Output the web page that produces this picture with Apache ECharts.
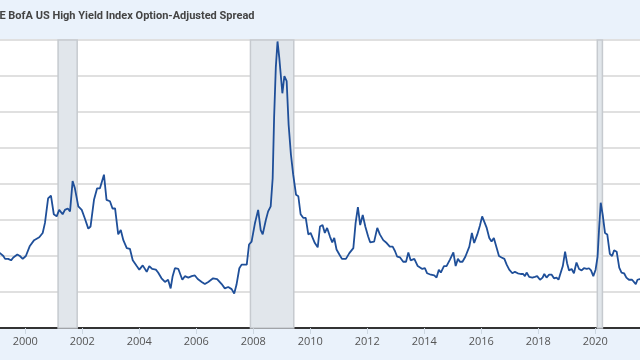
<!DOCTYPE html>
<html>
<head>
<meta charset="utf-8">
<script src="https://cdn.jsdelivr.net/npm/echarts@6/dist/echarts.min.js"></script>
<style>
  html, body { margin: 0; padding: 0; background: #fff; }
  #chart { width: 640px; height: 360px; }
</style>
</head>
<body>
<div id="chart"></div>
<script>
const titleText = 'ICE BofA US High Yield Index Option-Adjusted Spread';

const years = [
  1999.0, 1999.11, 1999.23, 1999.29, 1999.40, 1999.50, 1999.58, 1999.72, 1999.81, 1999.91,
  2000.02, 2000.16, 2000.31, 2000.49, 2000.61, 2000.69, 2000.80, 2000.90, 2001.00, 2001.10,
  2001.19, 2001.31, 2001.39, 2001.49, 2001.57, 2001.66, 2001.74, 2001.86, 2001.98, 2002.09,
  2002.21, 2002.29, 2002.41, 2002.52, 2002.62, 2002.76, 2002.85, 2002.97, 2003.06, 2003.15,
  2003.26, 2003.35, 2003.44, 2003.56, 2003.67, 2003.77, 2003.91, 2004.00, 2004.12, 2004.17,
  2004.26, 2004.35, 2004.45, 2004.58, 2004.66, 2004.78, 2004.90, 2005.01, 2005.10, 2005.17,
  2005.25, 2005.37, 2005.51, 2005.60, 2005.72, 2005.84, 2005.95, 2006.05, 2006.19, 2006.30,
  2006.42, 2006.59, 2006.73, 2006.89, 2007.00, 2007.12, 2007.24, 2007.33, 2007.41, 2007.51,
  2007.59, 2007.67, 2007.77, 2007.85, 2007.94, 2008.06, 2008.17, 2008.26, 2008.33, 2008.44,
  2008.52, 2008.61, 2008.68, 2008.73, 2008.79, 2008.85, 2008.91, 2009.02, 2009.09, 2009.17,
  2009.24, 2009.32, 2009.40, 2009.50, 2009.58, 2009.66, 2009.75, 2009.84, 2009.93, 2010.01,
  2010.08, 2010.16, 2010.26, 2010.34, 2010.43, 2010.51, 2010.59, 2010.69, 2010.77, 2010.84,
  2010.92, 2011.02, 2011.11, 2011.25, 2011.37, 2011.51, 2011.59, 2011.67, 2011.75, 2011.84,
  2011.93, 2012.03, 2012.10, 2012.24, 2012.35, 2012.44, 2012.56, 2012.68, 2012.79, 2012.89,
  2012.97, 2013.05, 2013.15, 2013.26, 2013.36, 2013.44, 2013.52, 2013.65, 2013.77, 2013.85,
  2013.93, 2014.02, 2014.10, 2014.23, 2014.35, 2014.43, 2014.51, 2014.58, 2014.69, 2014.78,
  2014.90, 2015.02, 2015.10, 2015.18, 2015.25, 2015.34, 2015.44, 2015.58, 2015.67, 2015.75,
  2015.86, 2015.95, 2016.03, 2016.10, 2016.19, 2016.28, 2016.36, 2016.44, 2016.54, 2016.62,
  2016.71, 2016.81, 2016.89, 2016.98, 2017.09, 2017.18, 2017.28, 2017.38, 2017.47, 2017.53,
  2017.59, 2017.68, 2017.79, 2017.88, 2017.96, 2018.06, 2018.15, 2018.21, 2018.29, 2018.38,
  2018.47, 2018.55, 2018.64, 2018.71, 2018.78, 2018.86, 2018.94, 2019.01, 2019.08, 2019.17,
  2019.25, 2019.34, 2019.43, 2019.52, 2019.60, 2019.70, 2019.78, 2019.85, 2019.93, 2020.01,
  2020.08, 2020.13, 2020.19, 2020.26, 2020.34, 2020.42, 2020.51, 2020.59, 2020.66, 2020.75,
  2020.84, 2020.92, 2021.01, 2021.09, 2021.18, 2021.29, 2021.35, 2021.42, 2021.48, 2021.56,
  2021.65
];

const spread = [
  5.3, 5.2, 5.0, 4.8, 4.8, 4.7, 4.9, 5.1, 5.0, 4.8,
  5.0, 5.7, 6.1, 6.3, 6.6, 7.3, 9.0, 9.2, 7.9, 7.75,
  8.2, 7.9, 8.2, 8.3, 8.1, 10.2, 9.7, 8.45, 8.2, 7.6,
  6.9, 7.05, 8.9, 9.7, 9.7, 10.65, 8.9, 8.8, 8.3, 8.3,
  6.5, 6.8, 6.1, 5.55, 5.5, 4.7, 4.3, 4.05, 4.35, 4.4,
  3.9, 4.3, 4.1, 4.05, 3.85, 3.45, 3.2, 3.35, 2.75, 3.6,
  4.15, 4.1, 3.35, 3.6, 3.5, 3.6, 3.65, 3.4, 3.2, 3.05,
  3.2, 3.45, 3.4, 3.05, 2.75, 2.85, 2.7, 2.4, 3.0, 4.15,
  4.4, 4.4, 4.4, 5.8, 6.0, 7.3, 8.2, 6.8, 6.5, 7.5,
  8.1, 8.45, 10.4, 14.6, 18.1, 19.9, 18.8, 16.3, 17.5, 17.15,
  14.1, 12.05, 10.65, 9.25, 9.15, 7.9, 7.65, 7.65, 6.5, 6.6,
  6.7, 5.9, 5.6, 7.05, 7.15, 6.6, 6.95, 6.35, 5.95, 6.25,
  5.45, 5.1, 4.8, 4.8, 5.2, 5.55, 7.3, 8.4, 7.15, 7.85,
  7.05, 6.35, 5.95, 6.0, 6.95, 6.5, 6.1, 5.9, 5.65, 5.65,
  5.35, 4.95, 4.9, 4.6, 4.6, 5.25, 4.7, 4.8, 4.3, 4.2,
  4.1, 4.15, 3.8, 3.7, 3.65, 3.5, 4.05, 3.85, 4.3, 4.3,
  4.75, 5.25, 4.3, 4.8, 4.6, 4.6, 4.95, 5.65, 6.6, 5.9,
  6.5, 7.1, 7.75, 7.75, 6.95, 6.25, 6.0, 6.25, 5.55, 5.0,
  4.9, 4.8, 4.4, 4.05, 3.8, 3.9, 3.8, 3.75, 3.75, 3.6,
  3.85, 3.55, 3.5, 3.55, 3.6, 3.35, 3.5, 3.75, 3.5, 3.7,
  3.7, 3.45, 3.5, 3.35, 3.8, 4.3, 5.3, 4.5, 4.0, 4.1,
  3.8, 4.55, 4.1, 4.0, 4.15, 4.1, 4.15, 4.0, 3.6, 4.05,
  4.95, 6.8, 8.7, 7.85, 6.6, 6.5, 5.15, 5.0, 5.4, 5.3,
  4.2, 3.85, 3.8, 3.5, 3.35, 3.35, 3.35, 3.05, 3.35, 3.4,
  3.35
];

const recessionStart = [2001.15, 2007.90, 2020.07];
const recessionEnd   = [2001.82, 2009.42, 2020.25];

const xMin = 1998, xMax = 2022, xStep = 2;
const yMin = 0, yMax = 20, yStep = 2.5;

const lineData = years.map((y, i) => [y, spread[i]]);
const bands = recessionStart.map((s, i) => [{ xAxis: s }, { xAxis: recessionEnd[i] }]);

const chart = echarts.init(document.getElementById('chart'), null, { renderer: 'canvas' });
chart.setOption({
  backgroundColor: '#ffffff',
  animation: false,
  grid: { left: -31.7, width: 684, top: 40, bottom: 32, containLabel: false, outerBoundsMode: 'none' },
  graphic: [
    { type: 'rect', z: -10, silent: true, shape: { x: 0, y: 0, width: 640, height: 39 }, style: { fill: '#eaf2fb' } },
    { type: 'rect', z: -10, silent: true, shape: { x: 0, y: 328, width: 640, height: 32 }, style: { fill: '#eaf2fb' } },
    { type: 'text', z: 10, silent: true, style: { text: titleText, x: -11, y: 16, font: 'bold 11px Roboto', fill: '#444444', verticalAlign: 'middle', align: 'left' } }
  ],
  xAxis: {
    type: 'value', min: xMin, max: xMax, interval: xStep,
    axisLine: { show: true, onZero: false, lineStyle: { color: '#333333', width: 2 } },
    axisTick: { show: true, length: 6, lineStyle: { color: '#cdd7e1', width: 1 } },
    axisLabel: { color: '#555555', fontFamily: 'Open Sans', fontSize: 11, margin: 8, formatter: v => String(Math.round(v)) },
    splitLine: { show: false }
  },
  yAxis: {
    type: 'value', min: yMin, max: yMax, interval: yStep,
    axisLine: { show: false }, axisTick: { show: false }, axisLabel: { show: false },
    splitLine: { show: true, lineStyle: { color: '#d6d6d6', width: 1.5 } }
  },
  series: [
    {
      type: 'line', data: [], z: -1, silent: true,
      markArea: {
        silent: true,
        itemStyle: { color: '#e1e6eb', borderColor: '#c6cacf', borderWidth: 1.5 },
        data: bands
      }
    },
    {
      type: 'line', data: lineData, z: 3, showSymbol: false, symbol: 'none',
      lineStyle: { color: '#1f4f99', width: 1.8 },
      clip: true
    }
  ]
});
</script>
</body>
</html>
